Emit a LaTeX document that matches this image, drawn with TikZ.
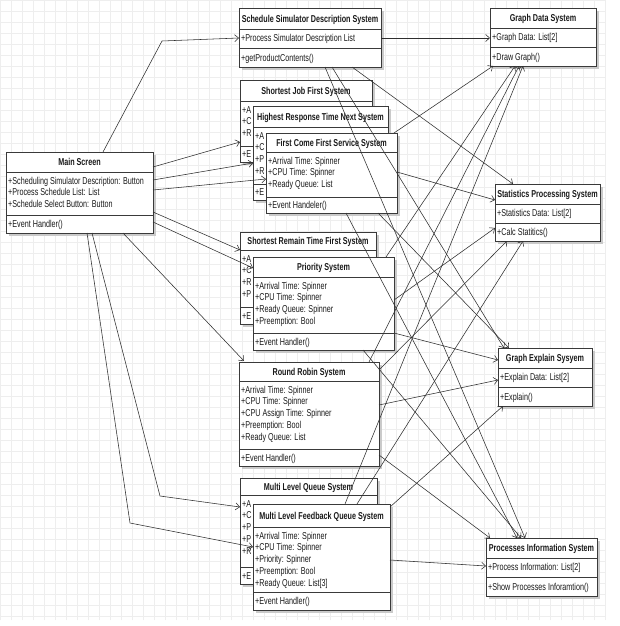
\documentclass[tikz,border=0pt]{standalone}
\usepackage{fontspec}
\setmainfont{Liberation Sans}[FakeStretch=0.72]
\usetikzlibrary{arrows.meta,calc}
\definecolor{boxc}{HTML}{3A3A3A}
\definecolor{linec}{HTML}{2E2E2E}
\definecolor{txtc}{HTML}{1A1A1A}
\definecolor{shadc}{HTML}{CACACA}
\definecolor{gridc}{HTML}{EEEEEE}
\tikzset{
 umlframe/.style={draw=boxc, line width=0.8pt, fill=white, inner sep=0pt, outer sep=0pt, rectangle},
 umlsep/.style={draw=boxc, line width=0.8pt},
 umlshadow/.style={fill=shadc},
 umltitle/.style={anchor=base, inner sep=0pt, text=txtc, font=\fontsize{10}{12}\selectfont\bfseries},
 umltext/.style={anchor=base west, inner sep=0pt, text=txtc, font=\fontsize{10}{12}\selectfont},
 conn/.style={draw=linec, line width=0.55pt, -{Straight Barb[length=4pt,width=7pt]}},
}
\newcommand\umlbox[9]{%
 \fill[umlshadow] (#2+3,#3+3) rectangle (#2+#4+3,#7+3);
 \node[umlframe, minimum width=#4pt, minimum height=#7pt-#3pt, anchor=north west] (#1) at (#2,#3) {};
 \draw[umlsep] (#2,#5) -- (#2+#4,#5);
 \draw[umlsep] (#2,#6) -- (#2+#4,#6);
 \node[umltitle] (#1-t) at ({#2+#4/2},{(#3+#5)/2+3.6}) {#8};
 \foreach \txt [count=\k] in {#9} {
   \node[umltext] (#1-a\k) at ({#2+2},{#5+8.5+(\k-1)*11.8+3.6}) {\txt};
 }
 \coordinate (#1-mc) at ({#2+2},{(#6+#7)/2+3.6});
}
\newcommand\umlm[2]{\node[umltext] (#1-m) at (#1-mc) {#2};}
\begin{document}
\begin{tikzpicture}[x=1pt,y=-1pt]
\useasboundingbox (0,0) rectangle (619,626);
\fill[white] (0,0) rectangle (619,626);
\draw[gridc, line width=0.5pt, step=11pt] (0,0) grid (606,620);

\umlbox{main}{6}{152}{147}{172}{215}{233}{Main Screen}{{+Scheduling Simulator Description: Button},{+Process Schedule List: List},{+Schedule Select Button: Button}}
\umlm{main}{+Event Handler()}

\umlbox{ssds}{239}{8}{142}{29}{48}{67}{Schedule Simulator Description System}{{+Process Simulator Description List}}
\umlm{ssds}{+getProductContents()}

\umlbox{sjf}{240}{80}{132}{101}{146}{162}{Shortest Job First System}{{+A},{+C},{+R}}
\umlm{sjf}{+E}
\umlbox{hrtn}{253}{106}{135}{127}{184}{200}{Highest Response Time Next System}{{+A},{+C},{+P},{+R}}
\umlm{hrtn}{+E}
\umlbox{fcfs}{266}{133}{131}{152}{197}{213}{First Come First Service System}{{+Arrival Time: Spinner},{+CPU Time: Spinner},{+Ready Queue: List}}
\umlm{fcfs}{+Event Handeler()}

\umlbox{srtf}{240}{232}{136}{250}{307}{324}{Shortest Remain Time First System}{{+A},{+C},{+R},{+P}}
\umlm{srtf}{+E}
\umlbox{prio}{253}{257}{141}{277}{333}{350}{Priority System}{{+Arrival Time: Spinner},{+CPU Time: Spinner},{+Ready Queue: Spinner},{+Preemption: Bool}}
\umlm{prio}{+Event Handler()}

\umlbox{rr}{239}{362}{140}{381}{449}{466}{Round Robin System}{{+Arrival Time: Spinner},{+CPU Time: Spinner},{+CPU Assign Time: Spinner},{+Preemption: Bool},{+Ready Queue: List}}
\umlm{rr}{+Event Handler()}

\umlbox{mlq}{240}{478}{137}{495}{567}{584}{Multi Level Queue System}{{+A},{+C},{+P},{+P},{+R}}
\umlm{mlq}{+E}
\umlbox{mlfq}{253}{504}{137}{527}{592}{610}{Multi Level Feedback Queue System}{{+Arrival Time: Spinner},{+CPU Time: Spinner},{+Priority: Spinner},{+Preemption: Bool},{+Ready Queue: List[3]}}
\umlm{mlfq}{+Event Handler()}

\umlbox{gd}{490}{8}{106}{28}{47}{66}{Graph Data System}{{+Graph Data: List[2]}}
\umlm{gd}{+Draw Graph()}
\umlbox{sp}{495}{184}{105}{204}{223}{241}{Statistics Processing System}{{+Statistics Data: List[2]}}
\umlm{sp}{+Calc Statitics()}
\umlbox{ge}{498}{348}{94}{368}{387}{406}{Graph Explain Sysyem}{{+Explain Data: List[2]}}
\umlm{ge}{+Explain()}
\umlbox{pi}{486}{538}{111}{558}{577}{596}{Processes Information System}{{+Process Information: List[2]}}
\umlm{pi}{+Show Processes Inforamtion()}

% connectors from Main Screen
\coordinate (k1) at (162,41);
\coordinate (k2) at (160,496);
\coordinate (k3) at (130,523);
\draw[conn] ($(main.north west)+(97,0)$) -- (k1) -- ($(ssds.north west)+(0,30)$);
\draw[conn] ($(main.north east)+(0,15)$) -- ($(sjf.north west)+(0,62)$);
\draw[conn] ($(main.north east)+(0,28)$) -- ($(hrtn.north west)+(0,57)$);
\draw[conn] ($(main.north east)+(0,38)$) -- ($(fcfs.north west)+(0,46)$);
\draw[conn] ($(main.north east)+(0,60)$) -- ($(srtf.north west)+(0,18)$);
\draw[conn] ($(main.north east)+(0,70)$) -- ($(prio.north west)+(0,11)$);
\draw[conn] ($(main.south west)+(117,0)$) -- ($(rr.north west)+(5,-1)$);
\draw[conn] ($(main.south west)+(86,0)$) -- (k2) -- ($(mlq.north west)+(0,29)$);
\draw[conn] ($(main.south west)+(81,0)$) -- (k3) -- ($(mlfq.north west)+(0,43)$);

% Schedule Simulator Description System
\draw[conn] ($(ssds.north east)+(0,30)$) -- ($(gd.north west)+(0,30)$);
\draw[conn] ($(ssds.south west)+(113,0)$) -- ($(sp.north west)+(18,0)$);
\draw[conn] ($(ssds.south west)+(93,0)$) -- ($(ge.north west)+(6,0)$);
\draw[conn] ($(ssds.south west)+(86,0)$) -- ($(pi.north west)+(39,0)$);
% FCFS
\draw[conn] ($(fcfs.north east)+(-3,0)$) -- ($(gd.south west)+(3,0)$);
\draw[conn] ($(fcfs.north east)+(0,39)$) -- ($(sp.north west)+(0,16)$);
\draw[conn] ($(fcfs.south west)+(112,0)$) -- ($(ge.north west)+(11,0)$);
\draw[conn] ($(fcfs.south west)+(80,0)$) -- ($(pi.north west)+(31,0)$);
% Priority
\draw[conn] ($(prio.north east)+(-8,0)$) -- ($(gd.south west)+(25,0)$);
\draw[conn] ($(prio.north east)+(0,43)$) -- ($(sp.north west)+(0,44)$);
\draw[conn] ($(prio.north east)+(0,76)$) -- ($(ge.north west)+(0,12)$);
\draw[conn] ($(prio.south west)+(110,0)$) -- ($(pi.north west)+(35,0)$);
% Round Robin
\draw[conn] ($(rr.north east)+(-10,0)$) -- ($(gd.south west)+(29,0)$);
\draw[conn] ($(rr.north east)+(0,8)$) -- ($(sp.south west)+(12,0)$);
\draw[conn] ($(rr.north east)+(0,43)$) -- ($(ge.north west)+(0,32)$);
\draw[conn] ($(rr.north east)+(0,93)$) -- ($(pi.north west)+(4,0)$);
% MLFQ
\draw[conn] ($(mlfq.north west)+(92,0)$) -- ($(gd.south west)+(33,0)$);
\draw[conn] ($(mlfq.north west)+(104,0)$) -- ($(sp.south west)+(28,0)$);
\draw[conn] ($(mlfq.north east)+(0,3)$) -- ($(ge.south west)+(5,0)$);
\draw[conn] ($(mlfq.north east)+(0,56)$) -- ($(pi.north west)+(0,28)$);
\end{tikzpicture}
\end{document}
